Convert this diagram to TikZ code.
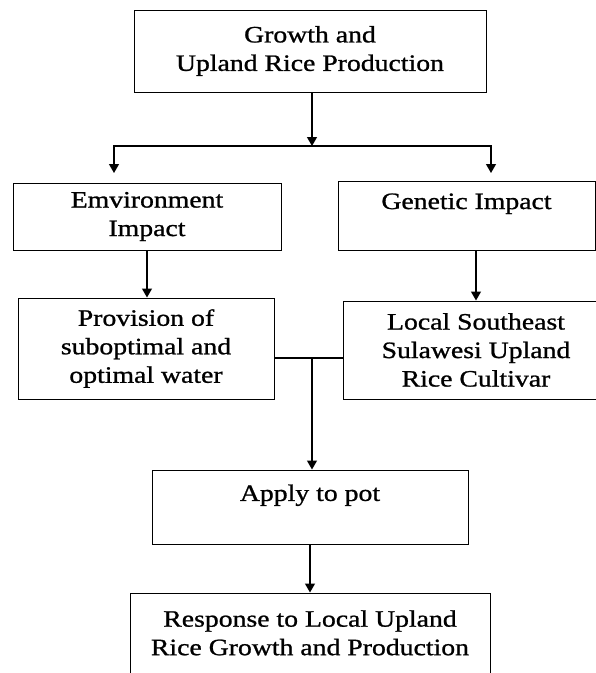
\documentclass[tikz,border=0pt]{standalone}
\usepackage{fontspec}
\setmainfont{Liberation Serif}[FakeStretch=1.18, FakeBold=1]
\usetikzlibrary{arrows.meta, positioning}

\begin{document}
\begin{tikzpicture}[x=1pt, y=-1pt,
    box/.style={draw, line width=1pt, align=center, inner sep=0pt,
      font=\fontsize{23.5}{28.5}\selectfont},
    link/.style={line width=1.3pt, -{Triangle[length=9pt, width=10pt]}},
    plain/.style={line width=1.1pt}]
  \useasboundingbox (0,0) rectangle (596,673);

  % Top box
  \node[box, minimum width=352pt, minimum height=82pt] (growth) at (310,51)
    {Growth and\\Upland Rice Production};

  % Impact boxes
  \node[box, minimum width=268pt, minimum height=67pt] (env) at (147,216.5)
    {Emvironment\\Impact};
  \node[box, minimum width=257pt, minimum height=69pt] (gen) at (466.5,215.5)
    {Genetic Impact\\ ~};

  % Treatment boxes
  \node[box, minimum width=256pt, minimum height=101pt] (water) at (146,348.5)
    {Provision of\\suboptimal and\\optimal water};
  \node[box, minimum width=266pt, minimum height=98pt] (cultivar) at (476,350)
    {Local Southeast\\Sulawesi Upland\\Rice Cultivar};

  % Pot and response
  \node[box, minimum width=316pt, minimum height=74pt] (pot) at (310,507)
    {Apply to pot\\ ~};
  \node[box, minimum width=360pt, minimum height=108pt] (response) at (310,647)
    {Response to Local Upland\\Rice Growth and Production\\ ~};

  % Branch points
  \coordinate (fork) at (312,146);
  \coordinate (envtip) at (114,173);
  \coordinate (gentip) at (491,173);
  \coordinate (join) at (312,358);

  % Arrows
  \draw[link] (growth.south -| fork) -- (fork);
  \draw[link] (fork) -| (envtip);
  \draw[link] (fork) -| (gentip);
  \draw[link] (env.south) -- (env.south |- water.north);
  \draw[link] (cultivar.north |- gen.south) -- (cultivar.north);
  \draw[plain] (water.east |- join) -- (cultivar.west |- join);
  \draw[link] (join) -- (join |- pot.north);
  \draw[link] (pot.south) -- (response.north);
\end{tikzpicture}
\end{document}
